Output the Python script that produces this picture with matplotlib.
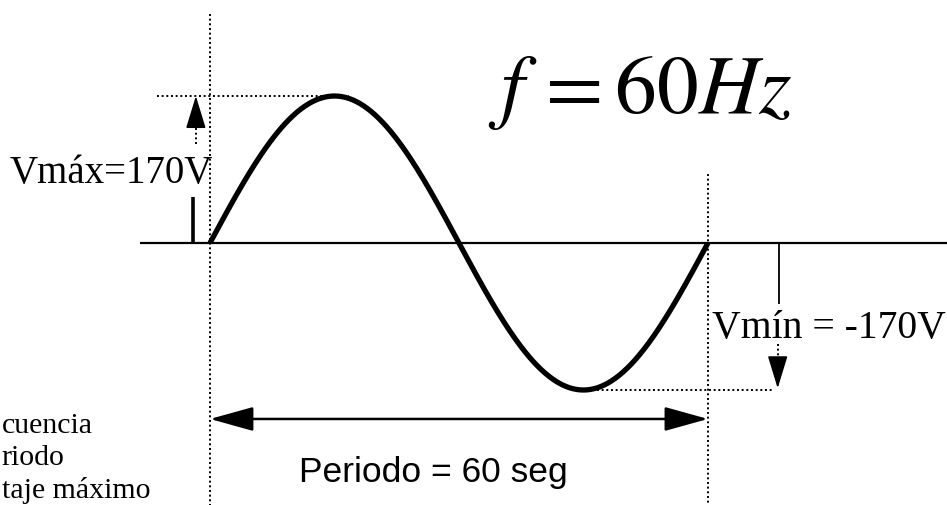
import numpy as np
import matplotlib
matplotlib.use("Agg")
import matplotlib.pyplot as plt

plt.rcParams['mathtext.fontset'] = 'stix'

# ---- data ----
AMPLITUDE = 170          # V
PERIOD = 60              # seg
FREQ_LABEL = r'$f\,=60Hz$'
VMAX_LABEL = 'Vmáx=170V'
VMIN_LABEL = 'Vmín = -170V'
PERIOD_LABEL = 'Periodo = 60 seg'
LEGEND_LINES = ['cuencia', 'riodo', 'taje máximo']

fig = plt.figure(figsize=(9.47, 5.06), dpi=100)
ax = fig.add_axes([0, 0, 1, 1])
ax.set_xlim(-25.3, 88.8)
ax.set_ylim(-303, 282.2)
ax.axis('off')

t = np.linspace(0, PERIOD, 500)
v = AMPLITUDE * np.sin(2 * np.pi * t / PERIOD)

# horizontal axis
ax.plot([-8.4, 88.8], [0, 0], color='black', lw=1.6, solid_capstyle='butt')
# wave
ax.plot(t, v, color='black', lw=3.8, solid_capstyle='butt')

dot = dict(color='black', lw=1.4, linestyle=(0, (1, 1.4)))
# vertical dotted guides
ax.plot([0, 0], [265, -303], **dot)
ax.plot([PERIOD, PERIOD], [80, -303], **dot)
# horizontal dotted at peak / trough
ax.plot([-6.4, PERIOD * 0.28], [AMPLITUDE, AMPLITUDE], **dot)
ax.plot([PERIOD * 0.75, 68.0], [-AMPLITUDE, -AMPLITUDE], **dot)

# Vmax arrow (dotted shaft, solid head)
ax.plot([-1.7, -1.7], [114, 150], **dot)
ax.annotate('', xy=(-1.7, AMPLITUDE), xytext=(-1.7, 148),
            arrowprops=dict(arrowstyle='-|>,head_length=0.85,head_width=0.26',
                            color='black', lw=1.2,
                            mutation_scale=24, shrinkA=0, shrinkB=0))
# thick tick
ax.plot([-2.0, -2.0], [0, 53], color='black', lw=2.6, solid_capstyle='butt')

# Vmin tick and arrow
ax.plot([68.6, 68.6], [0, -70], color='black', lw=1.3, solid_capstyle='butt')
ax.plot([68.4, 68.4], [-117, -147], **dot)
ax.annotate('', xy=(68.4, -AMPLITUDE + 2), xytext=(68.4, -145),
            arrowprops=dict(arrowstyle='-|>,head_length=0.85,head_width=0.26',
                            color='black', lw=1.2,
                            mutation_scale=24, shrinkA=0, shrinkB=0))

# period double arrow
ax.annotate('', xy=(0, -203.5), xytext=(PERIOD, -203.5),
            arrowprops=dict(arrowstyle='<|-|>,head_length=0.9,head_width=0.25',
                            color='black', lw=1.8,
                            mutation_scale=30, shrinkA=0, shrinkB=0))

# texts
ax.text(33.5, 151.5, FREQ_LABEL, fontsize=60, ha='left', va='baseline', color='black')
ax.text(0.36, 70.5, VMAX_LABEL, fontsize=28, family='Liberation Serif',
        ha='right', va='baseline', color='black')
ax.text(60.5, -108.7, VMIN_LABEL, fontsize=28.5, family='Liberation Serif',
        ha='left', va='baseline', color='black')
ax.text(26.9, -275, PERIOD_LABEL, fontsize=25.5, family='Liberation Sans',
        ha='center', va='baseline', color='black')
for s, yb in zip(LEGEND_LINES, [-218.6, -255.6, -293.7]):
    ax.text(-25.1, yb, s, fontsize=21.5, family='Liberation Serif',
            ha='left', va='baseline', color='black')

fig.savefig('out.png', dpi=100, facecolor='white')
